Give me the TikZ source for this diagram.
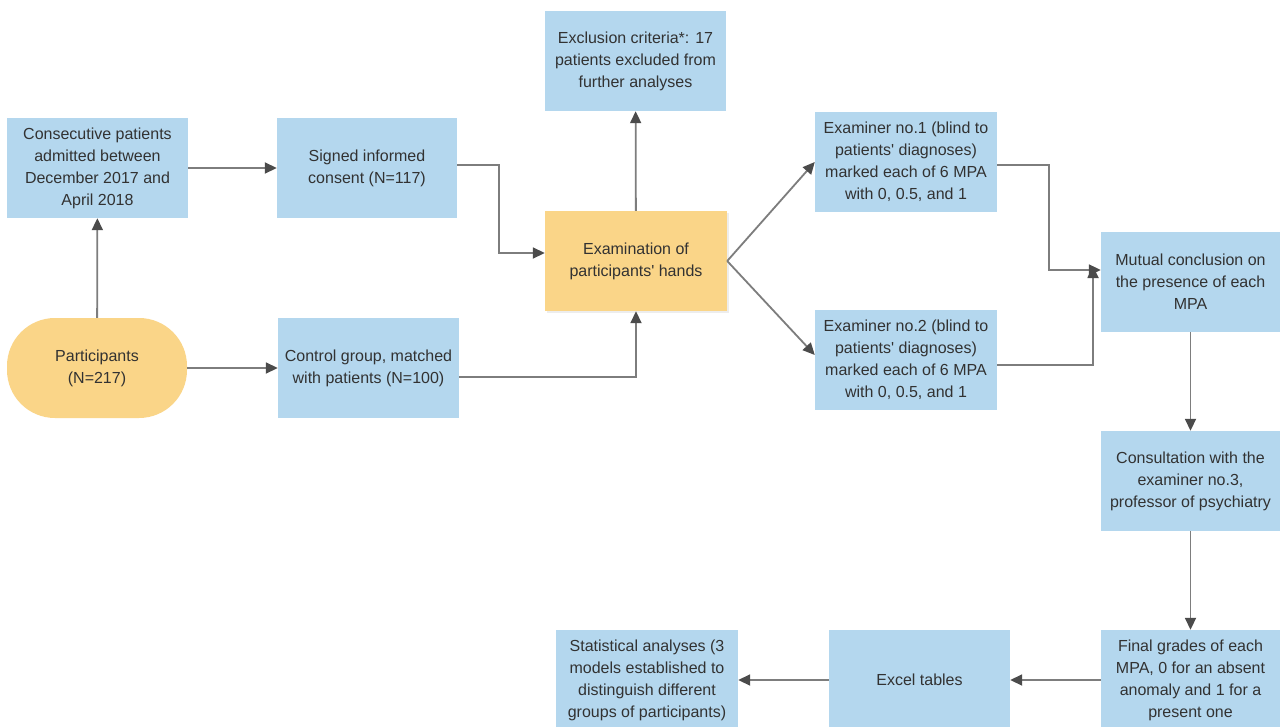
\documentclass[tikz,border=0pt]{standalone}
\usepackage{fontspec}
\setmainfont{Liberation Sans}
\usetikzlibrary{arrows.meta,calc}
\definecolor{boxblue}{RGB}{180,215,238}
\definecolor{boxorange}{RGB}{250,213,136}
\definecolor{txt}{RGB}{50,50,50}
\definecolor{lin}{RGB}{125,125,125}
\definecolor{tip}{RGB}{75,75,75}
\newcommand{\q}{\textquotesingle}
\tikzset{
  bluebox/.style={fill=boxblue, draw=none, minimum width=181pt, minimum height=100pt, inner sep=0pt,
    align=center, text=txt, font=\fontsize{16}{22}\selectfont},
  orangebox/.style={bluebox, fill=boxorange},
  conn/.style={draw=lin, line width=1.8pt, -{Triangle[length=12pt,width=11pt,color=tip]}},
}
\begin{document}
\begin{tikzpicture}[x=1pt,y=-1pt]
\useasboundingbox (0,0) rectangle (1280,726);
\clip (0,0) rectangle (1280,726);
\fill[white] (0,0) rectangle (1280,726);

\node[bluebox] (cons) at (97.5,168) {Consecutive patients\\admitted between\\December 2017 and\\April 2018};
\node[bluebox, minimum width=180pt] (sign) at (367,168) {Signed informed\\consent (N=117)};
\node[orangebox, minimum width=180pt, rounded corners=48pt] (part) at (97,368) {Participants\\(N=217)};
\node[bluebox] (ctrl) at (368.5,368) {Control group, matched\\with patients (N=100)};
\node[bluebox] (excl) at (635.5,61) {Exclusion criteria*: 17\\patients excluded from\\further analyses};
\fill[black!7] (547,213) rectangle (729,313);
\node[orangebox, minimum width=182pt] (exam) at (636,261) {Examination of\\participants\q{} hands};
\node[bluebox, minimum width=182pt] (ex1) at (906,162) {Examiner no.1 (blind to\\patients\q{} diagnoses)\\marked each of 6 MPA\\with 0, 0.5, and 1};
\node[bluebox, minimum width=182pt] (ex2) at (906,360) {Examiner no.2 (blind to\\patients\q{} diagnoses)\\marked each of 6 MPA\\with 0, 0.5, and 1};
\node[bluebox, minimum width=179pt] (mut) at (1190.5,282) {Mutual conclusion on\\the presence of each\\MPA};
\node[bluebox, minimum width=179pt] (cons3) at (1190.5,481) {Consultation with the\\examiner no.3,\\professor of psychiatry};
\node[bluebox, minimum width=179pt] (final) at (1190.5,680) {Final grades of each\\MPA, 0 for an absent\\anomaly and 1 for a\\present one};
\node[bluebox] (excel) at (919.5,680) {Excel tables};
\node[bluebox, minimum width=182pt] (stat) at (647,680) {Statistical analyses (3\\models established to\\distinguish different\\groups of participants)};

\coordinate (s1) at (499,165);
\coordinate (c1) at (636,377);
\coordinate (e1) at (1049,165);
\coordinate (e2) at (1093,365);
\coordinate (e2t) at (1093,266);

\draw[conn] (part) -- (cons);
\draw[conn] (part) -- (ctrl);
\draw[conn] (cons) -- (sign);
\draw[conn] ([yshift=3pt]sign.east) -- (s1) |- ([yshift=8pt]exam.west);
\draw[conn] ([yshift=-9pt]ctrl.east) -- (c1) -- (exam.south);
\draw[conn] (exam) -- (excl);
\draw[conn] (exam.east) -- (ex1.west);
\draw[conn] (exam.east) -- ([yshift=5pt]ex2.west);
\draw[conn] ([yshift=-3pt]ex1.east) -- (e1) |- ([yshift=12pt]mut.west);
\draw[conn] ([yshift=-5pt]ex2.east) -- (e2) -- (e2t);
\draw[conn] (mut) -- (cons3);
\draw[conn] (cons3) -- (final);
\draw[conn] (final) -- (excel);
\draw[conn] (excel) -- (stat);
\end{tikzpicture}
\end{document}
